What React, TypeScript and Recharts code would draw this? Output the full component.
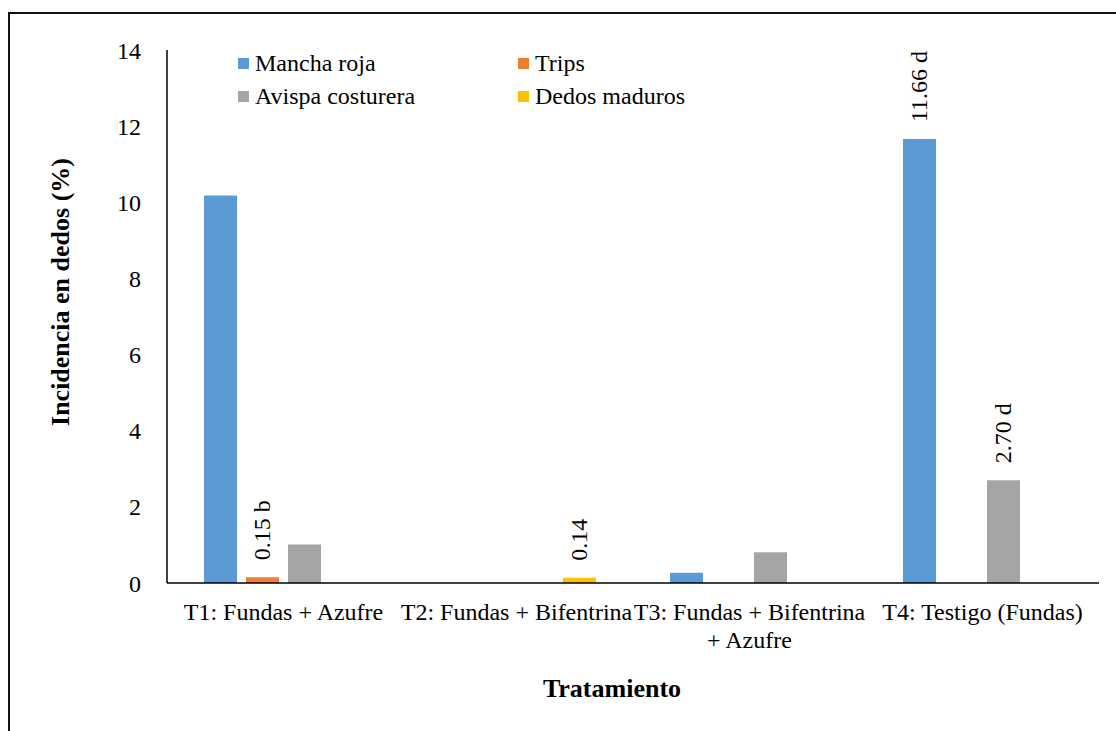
import React from "react";
import { BarChart, Bar, XAxis, YAxis, Legend, LabelList } from "recharts";

const categories = [
  "T1: Fundas + Azufre",
  "T2: Fundas + Bifentrina",
  "T3: Fundas + Bifentrina\n+ Azufre",
  "T4: Testigo (Fundas)",
];

const manchaRoja = [10.18, 0, 0.27, 11.66];
const trips = [0.15, 0, 0, 0];
const avispaCosturera = [1.01, 0, 0.81, 2.7];
const dedosMaduros = [0, 0.14, 0, 0];

const manchaLabels = ["", "", "", "11.66 d"];
const tripsLabels = ["0.15 b", "", "", ""];
const avispaLabels = ["", "", "", "2.70 d"];
const dedosLabels = ["", "0.14", "", ""];

const seriesNames = ["Mancha roja", "Trips", "Avispa costurera", "Dedos maduros"];
const seriesColors = ["#5B9BD5", "#ED7D31", "#A5A5A5", "#FFC000"];

const yTicks = [0, 2, 4, 6, 8, 10, 12, 14];

const data = categories.map((name, i) => ({
  name,
  mancha: manchaRoja[i],
  manchaLabel: manchaLabels[i],
  trips: trips[i],
  tripsLabel: tripsLabels[i],
  avispa: avispaCosturera[i],
  avispaLabel: avispaLabels[i],
  dedos: dedosMaduros[i],
  dedosLabel: dedosLabels[i],
}));

const FONT = "Times New Roman, Liberation Serif, Tinos, serif";

const renderValueLabel = (props: any) => {
  const { x, y, width, value } = props;
  if (!value) return null;
  const cx = Number(x) + Number(width) / 2;
  const top = Number(y) - 17;
  return (
    <text
      x={cx}
      y={top}
      transform={`rotate(-90, ${cx}, ${top})`}
      textAnchor="start"
      dominantBaseline="central"
      style={{ fontFamily: FONT, fontSize: 24 }}
      fill="#000"
    >
      {value}
    </text>
  );
};

const CategoryTick = (props: any) => {
  const { x, y, payload } = props;
  const lines = String(payload.value).split("\n");
  return (
    <g transform={`translate(${x},${y})`}>
      {lines.map((line, i) => (
        <text
          key={i}
          x={0}
          y={21 + i * 28}
          textAnchor="middle"
          dominantBaseline="central"
          style={{ fontFamily: FONT, fontSize: 24 }}
          fill="#000"
        >
          {line}
        </text>
      ))}
    </g>
  );
};

// legend built from our own series list so order matches the original
const renderLegend = () => (
  <div
    style={{
      display: "grid",
      gridTemplateColumns: "280px 200px",
      rowGap: 5,
      fontFamily: FONT,
      fontSize: 24,
      color: "#000",
      textAlign: "left",
    }}
  >
    {seriesNames.map((name, i) => (
      <div key={name} style={{ display: "flex", alignItems: "center", height: 28 }}>
        <span
          style={{
            width: 11,
            height: 11,
            background: seriesColors[i],
            marginRight: 6,
            display: "inline-block",
          }}
        />
        {name}
      </div>
    ))}
  </div>
);

export default function App() {
  return (
    <div
      style={{
        position: "absolute",
        left: 0,
        top: 0,
        width: 1116,
        height: 731,
        background: "#fff",
        fontFamily: FONT,
      }}
    >
      <div
        style={{
          position: "absolute",
          left: 8,
          top: 12,
          width: 1108,
          height: 719,
          borderLeft: "2px solid #111",
          borderTop: "2px solid #111",
          boxSizing: "border-box",
        }}
      />
      <BarChart
        width={1116}
        height={731}
        data={data}
        margin={{ top: 50, right: 17, bottom: 48, left: 0 }}
        barCategoryGap={36}
        barGap={9}
        style={{ position: "absolute", left: 0, top: 0 }}
      >
        <XAxis
          dataKey="name"
          tick={<CategoryTick />}
          tickLine={false}
          axisLine={{ stroke: "#000", strokeWidth: 1.5 }}
          interval={0}
          height={100}
        />
        <YAxis
          width={167}
          domain={[0, 14]}
          ticks={yTicks}
          tickLine={false}
          axisLine={{ stroke: "#000", strokeWidth: 1.5 }}
          tickMargin={20}
          tick={{ fill: "#000", style: { fontFamily: FONT, fontSize: 24 } }}
        />
        <Legend
          layout="horizontal"
          verticalAlign="middle"
          align="center"
          content={renderLegend}
          wrapperStyle={{ left: 238, top: 49, width: 500 }}
        />
        <Bar dataKey="mancha" name={seriesNames[0]} fill={seriesColors[0]} barSize={33} isAnimationActive={false}>
          <LabelList dataKey="manchaLabel" content={renderValueLabel} />
        </Bar>
        <Bar dataKey="trips" name={seriesNames[1]} fill={seriesColors[1]} barSize={33} isAnimationActive={false}>
          <LabelList dataKey="tripsLabel" content={renderValueLabel} />
        </Bar>
        <Bar dataKey="avispa" name={seriesNames[2]} fill={seriesColors[2]} barSize={33} isAnimationActive={false}>
          <LabelList dataKey="avispaLabel" content={renderValueLabel} />
        </Bar>
        <Bar dataKey="dedos" name={seriesNames[3]} fill={seriesColors[3]} barSize={33} isAnimationActive={false}>
          <LabelList dataKey="dedosLabel" content={renderValueLabel} />
        </Bar>
        <text
          x={612}
          y={688}
          textAnchor="middle"
          dominantBaseline="central"
          style={{ fontFamily: FONT, fontSize: 26, fontWeight: "bold" }}
          fill="#000"
        >
          Tratamiento
        </text>
        <text
          x={60}
          y={292}
          transform="rotate(-90, 60, 292)"
          textAnchor="middle"
          dominantBaseline="central"
          style={{ fontFamily: FONT, fontSize: 26, fontWeight: "bold" }}
          fill="#000"
        >
          Incidencia en dedos (%)
        </text>
      </BarChart>
    </div>
  );
}
